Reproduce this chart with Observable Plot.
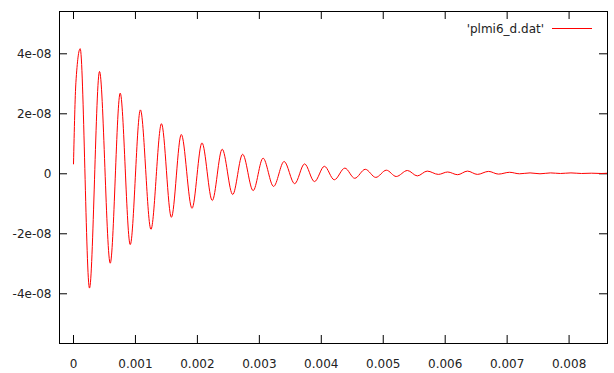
<!DOCTYPE html>
<html><head><meta charset="utf-8">
<script src="https://cdn.jsdelivr.net/npm/d3@7"></script>
<script src="https://cdn.jsdelivr.net/npm/@observablehq/plot@0.6"></script>
<style>body{margin:0;background:#fff} svg{display:block}</style>
</head><body><div id="chart"></div>
<script>
const xs = [0, 0.000039, 0.000108, 0.000258, 0.00042, 0.000593, 0.000754, 0.000916, 0.00108, 0.00125,
  0.00142, 0.00158, 0.00174, 0.001913, 0.002074, 0.00224, 0.0024, 0.00257, 0.00273, 0.0029,
  0.00306, 0.00323, 0.0034, 0.00357, 0.00373, 0.00389, 0.00405, 0.00421, 0.00438, 0.00454,
  0.00471, 0.00488, 0.00505, 0.00521, 0.00539, 0.00555, 0.00571, 0.00589, 0.00604, 0.0062,
  0.00636, 0.00652, 0.0067, 0.00686, 0.00704, 0.0072, 0.00737, 0.00753, 0.0077, 0.00786,
  0.00803, 0.0082, 0.00836, 0.00852, 0.00862];
const ys = [0.33e-8, 3.05e-8, 4.17e-8, -3.81e-8, 3.41e-8, -2.98e-8, 2.69e-8, -2.36e-8, 2.13e-8, -1.85e-8,
  1.67e-8, -1.45e-8, 1.31e-8, -1.15e-8, 1.03e-8, -0.89e-8, 0.82e-8, -0.69e-8, 0.65e-8, -0.56e-8,
  0.52e-8, -0.42e-8, 0.41e-8, -0.33e-8, 0.33e-8, -0.26e-8, 0.25e-8, -0.20e-8, 0.19e-8, -0.15e-8,
  0.15e-8, -0.12e-8, 0.12e-8, -0.09e-8, 0.11e-8, -0.07e-8, 0.09e-8, -0.02e-8, 0.06e-8, -0.03e-8,
  0.09e-8, -0.02e-8, 0.08e-8, -0.01e-8, 0.05e-8, 0.0, 0.03e-8, 0.0, 0.03e-8, 0.01e-8,
  0.03e-8, 0.01e-8, 0.02e-8, 0.01e-8, 0.02e-8];
const xTicks = [0, 0.001, 0.002, 0.003, 0.004, 0.005, 0.006, 0.007, 0.008];
const xTickLabels = ["0", "0.001", "0.002", "0.003", "0.004", "0.005", "0.006", "0.007", "0.008"];
const yTicks = [-4e-8, -2e-8, 0, 2e-8, 4e-8];
const yTickLabels = ["-4e-08", "-2e-08", "0", "2e-08", "4e-08"];
const seriesName = "'plmi6_d.dat'";

const data = xs.map((x, i) => ({x, y: ys[i]}));
const W = 614, H = 373, mL = 59, mR = 7, mT = 11, mB = 30;
const innerW = W - mL - mR, innerH = H - mT - mB;
const tick = 8;

const legendLine = () => {
  const g = d3.create("svg:g");
  g.append("line").attr("x1", W - mR - 55).attr("x2", W - mR - 15)
    .attr("y1", mT + 17.5).attr("y2", mT + 17.5)
    .attr("stroke", "red").attr("stroke-width", 1);
  return g.node();
};

const chart = Plot.plot({
  width: W, height: H,
  marginLeft: mL, marginRight: mR, marginTop: mT, marginBottom: mB,
  x: {domain: [-0.000226, 0.00862], label: null},
  y: {domain: [-5.657e-8, 5.41e-8], label: null},
  style: {fontFamily: "DejaVu Sans", fontSize: "12px", color: "#222", background: "white"},
  marks: [
    Plot.axisX(xTicks, {tickSize: 0, tickPadding: 15.5, fontSize: 12, label: null,
      tickFormat: d => xTickLabels[xTicks.indexOf(d)]}),
    Plot.axisY(yTicks, {tickSize: 0, tickPadding: 8, fontSize: 12, label: null,
      tickFormat: d => yTickLabels[yTicks.indexOf(d)]}),
    Plot.tickX(xTicks, {x: d => d, insetTop: innerH - tick, stroke: "black"}),
    Plot.tickX(xTicks, {x: d => d, insetBottom: innerH - tick, stroke: "black"}),
    Plot.tickY(yTicks, {y: d => d, insetRight: innerW - tick, stroke: "black"}),
    Plot.tickY(yTicks, {y: d => d, insetLeft: innerW - tick, stroke: "black"}),
    Plot.line(data, {x: "x", y: "y", stroke: "red", strokeWidth: 1, curve: "monotone-x"}),
    Plot.frame({stroke: "black"}),
    Plot.text([seriesName], {frameAnchor: "top-right", text: d => d, dx: -63.5, dy: 17.5,
      textAnchor: "end", lineAnchor: "middle", fontSize: 12, fill: "#222"}),
    legendLine
  ]
});
document.getElementById("chart").appendChild(chart);
</script>
</body></html>
